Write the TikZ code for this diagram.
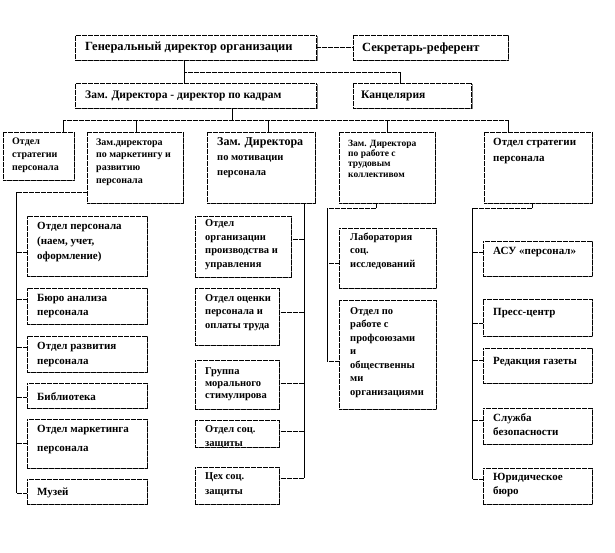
\documentclass[tikz,border=0pt]{standalone}
\usepackage{fontspec}
\setmainfont{Liberation Serif}
\usetikzlibrary{shadows,fit}
\tikzset{
  boxst/.style={draw=black, dash pattern=on 0.6pt off 0.6pt, line width=0.6pt, fill=white, inner sep=0pt,
    drop shadow={shadow xshift=1.2pt, shadow yshift=-1.2pt, fill=black!50, opacity=1}},
  txt/.style={inner sep=0pt, align=left, anchor=west, text=black},
  fA/.style={font=\bfseries\fontsize{12.5}{15}\selectfont},
  fB/.style={font=\bfseries\fontsize{11.5}{15}\selectfont},
  fC/.style={font=\bfseries\fontsize{11}{15}\selectfont},
  fD/.style={font=\bfseries\fontsize{10.5}{13.5}\selectfont},
  dotl/.style={draw=black, dash pattern=on 0.6pt off 0.6pt, line width=0.7pt},
  soll/.style={draw=black, line width=0.8pt},
}
\newcommand\bx[5]{\node[boxst, fit={(#2,#3) (#4,#5)}] (#1) {};}
\newcommand\brl[3]{\draw[dotl] ([yshift=#3pt]#1.west) -- ([yshift=#3pt]#1.west -| #2);}
\newcommand\brr[3]{\draw[dotl] ([yshift=#3pt]#1.east) -- ([yshift=#3pt]#1.east -| #2);}
\begin{document}
\begin{tikzpicture}[x=1pt,y=-1pt]
\fill[white] (0,0) rectangle (615,552);
\useasboundingbox (0,0) rectangle (615,552);

% ---- top rows
\bx{gen}{75.5}{35}{316.5}{60}
\bx{sec}{353}{35}{508}{60}
\bx{zam}{75.5}{83}{316.5}{108}
\bx{kanc}{353}{83}{471.5}{108}
\node[txt,fA] (gent) at (85,48) {Генеральный директор организации};
\node[txt,fA] (sect) at (362,48) {Секретарь-референт};
\node[txt,fB] (zamt) at (85,95.5) {Зам. Директора - директор по кадрам};
\node[txt,fB] (kanct) at (361,95.5) {Канцелярия};

\draw[dotl] (gen.east) -- (sec.west);
\coordinate (j1) at (184,72);
\coordinate (j2) at (400,72);
\draw[soll] (j1 |- gen.south) -- (j1 |- zam.north);
\draw[dotl] (j1) -- (j2);
\draw[soll] (j2) -- (j2 |- kanc.north);

% ---- third row
\bx{b1}{3}{132}{74}{180}
\bx{b2}{87}{132}{183}{203}
\bx{b3}{207}{132}{315}{203}
\bx{b4}{339}{132}{435}{203}
\bx{b5}{484}{132}{592}{203}
\node[txt,font=\bfseries\fontsize{10}{13}\selectfont] (b1t) at (12,155) {Отдел\\стратегии\\персонала};
\node[txt,font=\bfseries\fontsize{10}{12.7}\selectfont] (b2t) at (96,162) {Зам.директора\\по маркетингу и\\развитию\\персонала};
\node[txt,font=\bfseries\fontsize{10.5}{15}\selectfont] (b3t) at (217,158) {{\fontsize{12}{15}\selectfont Зам. Директора}\\по мотивации\\персонала};
\node[txt,font=\bfseries\fontsize{9.5}{10.4}\selectfont] (b4t) at (348,158.5) {Зам. Директора\\по работе с\\трудовым\\коллективом};
\node[txt,font=\bfseries\fontsize{11}{16}\selectfont] (b5t) at (493,151) {Отдел стратегии\\персонала};

\coordinate (h0) at (232,120);
\draw[soll] (zam.south -| h0) -- (h0);
\coordinate (d1) at (63,120);
\coordinate (d2) at (136,120);
\coordinate (d3) at (268,120);
\coordinate (d4) at (387,120);
\coordinate (d5) at (508,120);
\draw[dotl] (d1) -- (d5);
\foreach \i in {1,...,5}{\draw[soll] (d\i) -- (d\i |- b\i.north);}

% ---- column 1
\bx{c11}{27}{216}{147}{276}
\bx{c12}{27}{288}{147}{324}
\bx{c13}{27}{336}{147}{372}
\bx{c14}{27}{383}{147}{408}
\bx{c15}{27}{419}{147}{468}
\bx{c16}{27}{479}{147}{504}
\node[txt,fC] (c11t) at (37,242) {Отдел персонала\\(наем, учет,\\оформление)};
\node[txt,fC,font=\bfseries\fontsize{11}{14}\selectfont] (c12t) at (37,306) {Бюро анализа\\персонала};
\node[txt,fC,font=\bfseries\fontsize{11}{14.5}\selectfont] (c13t) at (37,354.5) {Отдел развития\\персонала};
\node[txt,fC] (c14t) at (37,397) {Библиотека};
\node[txt,fC,font=\bfseries\fontsize{11}{19}\selectfont] (c15t) at (37,439.5) {Отдел маркетинга\\персонала};
\node[txt,fC] (c16t) at (37,493) {Музей};
\coordinate (sp1) at (16,192);
\draw[dotl] (b2.west |- sp1) -- (sp1);
\draw[soll] (sp1) -- ([yshift=-1.5pt]c16.west -| sp1);
\brl{c11}{sp1}{-6}
\brl{c12}{sp1}{7}
\brl{c13}{sp1}{7}
\brl{c14}{sp1}{-1.5}
\brl{c15}{sp1}{0}
\brl{c16}{sp1}{-1.5}

% ---- column 2
\bx{c21}{195}{216}{291}{277}
\bx{c22}{195}{288}{279}{345}
\bx{c23}{195}{360}{279}{409}
\bx{c24}{195}{420}{279}{447}
\bx{c25}{195}{467}{279}{504}
\node[txt,fD] (c21t) at (205,244.5) {Отдел\\организации\\производства и\\управления};
\node[txt,fD] (c22t) at (205,312.5) {Отдел оценки\\персонала и\\оплаты труда};
\node[txt,fD,font=\bfseries\fontsize{10.5}{12}\selectfont] (c23t) at (205,384) {Группа\\морального\\стимулирова};
\node[txt,fD,font=\bfseries\fontsize{10.5}{14}\selectfont] (c24t) at (205,437) {Отдел соц.\\защиты};
\node[txt,fD,font=\bfseries\fontsize{10.5}{15}\selectfont] (c25t) at (205,484.5) {Цех соц.\\защиты};
\coordinate (sp2) at (304,0);
\draw[soll] (b3.south -| sp2) -- ([yshift=7.5pt]c25.east -| sp2);
\brr{c21}{sp2}{7.5}
\brr{c22}{sp2}{4.5}
\brr{c23}{sp2}{1.5}
\brr{c24}{sp2}{2.5}
\brr{c25}{sp2}{7.5}

% ---- column 3
\bx{c31}{339}{228}{436}{288}
\bx{c32}{339}{300}{436}{409}
\node[txt,fD] (c31t) at (350,251) {Лаборатория\\соц.\\исследований};
\node[txt,fD] (c32t) at (350,352.5) {Отдел по\\работе с\\профсоюзами\\и\\общественны\\ми\\организациями};
\coordinate (sp3a) at (376,208);
\coordinate (sp3) at (327,208);
\draw[soll] (b4.south -| sp3a) -- (sp3a);
\draw[dotl] (sp3a) -- (sp3);
\draw[soll] (sp3) -- ([yshift=-6.5pt]c32.west -| sp3);
\brl{c31}{sp3}{-5}
\brl{c32}{sp3}{-6.5}

% ---- column 4
\bx{c41}{483}{241}{592}{276}
\bx{c42}{483}{299}{592}{336}
\bx{c43}{483}{348}{592}{383}
\bx{c44}{483}{408}{592}{444}
\bx{c45}{483}{468}{592}{504}
\node[txt,fC] (c41t) at (493,252) {АСУ «персонал»};
\node[txt,fC] (c42t) at (493,313) {Пресс-центр};
\node[txt,fC] (c43t) at (493,362) {Редакция газеты};
\node[txt,fC,font=\bfseries\fontsize{11}{13.5}\selectfont] (c44t) at (493,424.5) {Служба\\безопасности};
\node[txt,fC,font=\bfseries\fontsize{11}{14}\selectfont] (c45t) at (493,485) {Юридическое\\бюро};
\coordinate (sp4a) at (532,208);
\coordinate (sp4) at (472,208);
\draw[soll] (b5.south -| sp4a) -- (sp4a);
\draw[dotl] (sp4a) -- (sp4);
\draw[soll] (sp4) -- ([yshift=7pt]c45.west -| sp4);
\brl{c41}{sp4}{6.5}
\brl{c42}{sp4}{-5.5}
\brl{c43}{sp4}{5.5}
\brl{c44}{sp4}{6}
\brl{c45}{sp4}{7}
\end{tikzpicture}
\end{document}
